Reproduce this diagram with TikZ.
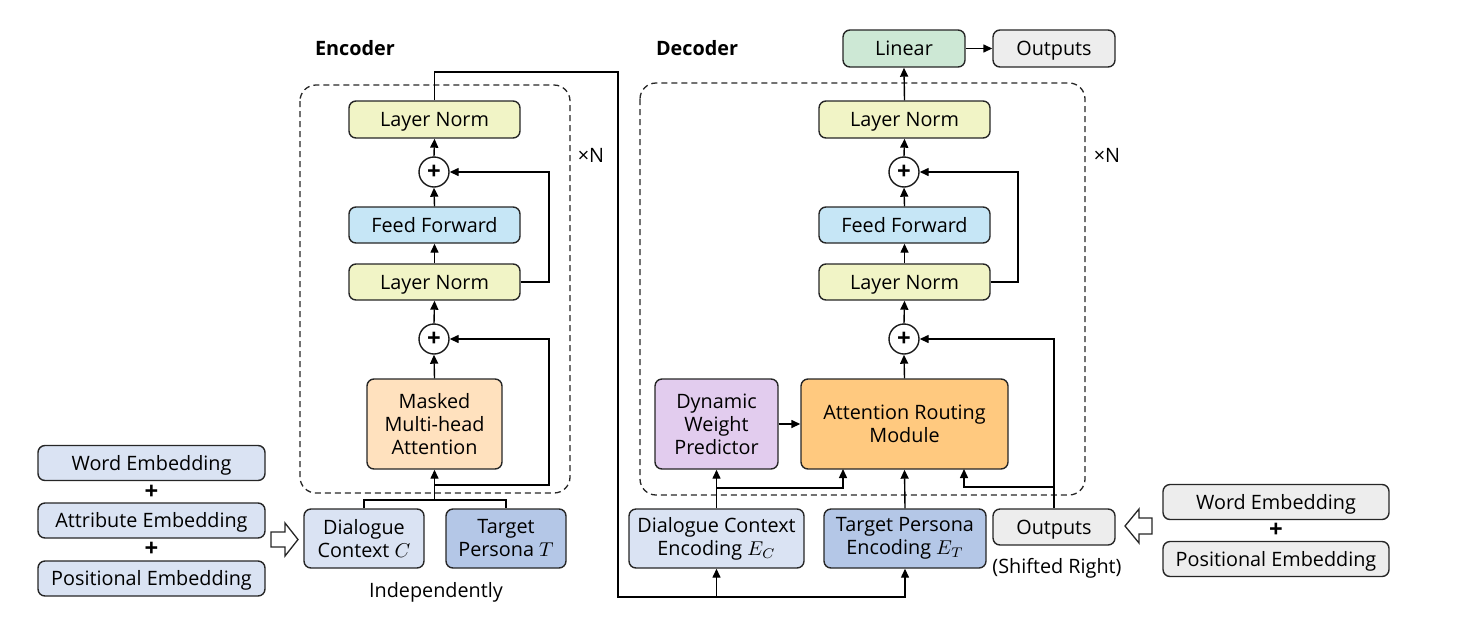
\documentclass[tikz,border=0pt]{standalone}
\usepackage{fontspec}
\setmainfont{Open Sans}
\usetikzlibrary{arrows.meta}
\definecolor{lnC}{HTML}{F1F4C6}
\definecolor{ffC}{HTML}{C6E6F6}
\definecolor{mmC}{HTML}{FFE1BE}
\definecolor{dcC}{HTML}{DAE3F3}
\definecolor{tpC}{HTML}{B4C7E7}
\definecolor{grC}{HTML}{EDEDED}
\definecolor{liC}{HTML}{CDE8D5}
\definecolor{arC}{HTML}{FFC97F}
\definecolor{dwC}{HTML}{E2CCEE}
\tikzset{
  bx/.style={draw=black!85, line width=0.7pt, rounded corners=3.5pt, inner sep=0pt, align=center,
    font=\fontsize{9.9}{11.5}\selectfont},
  one/.style={text height=0.72em, text depth=0pt},
  plusc/.style={draw=black!90, line width=0.7pt, circle, minimum size=15pt, inner sep=0pt, fill=white,
    font=\fontsize{12}{12}\selectfont\bfseries},
  pl/.style={inner sep=0pt, font=\fontsize{12}{12}\selectfont\bfseries},
  lbl/.style={inner sep=0pt, font=\fontsize{9.9}{11.5}\selectfont},
  arr/.style={line width=0.7pt, -{Triangle[length=4.5pt,width=4pt]}},
  ln/.style={line width=0.7pt},
  dbox/.style={draw=black!85, line width=0.65pt, dash pattern=on 3pt off 2pt, rounded corners=8pt},
  hol/.style={draw=black!85, line width=0.65pt, fill=white, line join=miter},
}
\begin{document}
\begin{tikzpicture}[x=0.5pt,y=-0.5pt]
\useasboundingbox (0,0) rectangle (1460,627);

% ---------------- Encoder ----------------
\node[lbl, one, font=\fontsize{9.9}{11.5}\selectfont\bfseries] (enct) at (355,48) {Encoder};
\draw[dbox] (300,85) rectangle (570,493);
\node[lbl, one] (xn1) at (591,155) {×N};

\node[bx, one, fill=lnC, minimum width=85.5pt, minimum height=18.5pt] (eln1) at (434.5,119.5) {Layer Norm};
\node[plusc] (ep1) at (434,172) {+};
\node[bx, one, fill=ffC, minimum width=85.5pt, minimum height=18pt] (eff) at (434.5,225) {Feed Forward};
\node[bx, one, fill=lnC, minimum width=85.5pt, minimum height=18pt] (eln2) at (434.5,282) {Layer Norm};
\node[plusc] (ep2) at (434,339) {+};
\node[bx, fill=mmC, minimum width=67.5pt, minimum height=45pt] (emm) at (434.5,424) {Masked\\Multi-head\\Attention};

\node[bx, fill=dcC, minimum width=60pt, minimum height=29.5pt] (edc) at (364,538.5) {Dialogue\\Context $C$};
\node[bx, fill=tpC, minimum width=60pt, minimum height=29.5pt] (etp) at (506,538.5) {Target\\Persona $T$};
\node[lbl, one] (indep) at (436,590) {Independently};

\draw[arr] (ep1.north) -- (eln1.south);
\draw[arr] (eff.north) -- (ep1.south);
\draw[arr] (eln2.north) -- (eff.south);
\draw[arr] (ep2.north) -- (eln2.south);
\draw[arr] (emm.north) -- (ep2.south);
\coordinate (er1) at (549,282);
\draw[arr] (eln2.east) -- (er1) |- (ep1.east);
\coordinate (ej) at (434.5,500);
\coordinate (er2) at (549,485);
\draw[ln] (edc.north) |- (ej) -| (etp.north);
\draw[arr] (ej) -- (emm.south);
\draw[arr] (er2 -| emm.south) -- (er2) |- (ep2.east);

% left embeddings
\node[bx, one, fill=dcC, minimum width=113.5pt, minimum height=17.5pt] (lwe) at (151.5,463) {Word Embedding};
\node[pl] (lp1) at (151.5,492) {+};
\node[bx, one, fill=dcC, minimum width=113.5pt, minimum height=17.5pt] (lae) at (151.5,520.5) {Attribute Embedding};
\node[pl] (lp2) at (151.5,549.5) {+};
\node[bx, one, fill=dcC, minimum width=113.5pt, minimum height=17.5pt] (lpe) at (151.5,578.5) {Positional Embedding};
\draw[hol] (271,532) -- (285,532) -- (285,523) -- (298,539.5) -- (285,556) -- (285,547) -- (271,547) -- cycle;

% long connector from encoder to decoder inputs
\coordinate (tr) at (618,72);
\coordinate (bl) at (618,597);

% ---------------- Decoder ----------------
\node[lbl, one, font=\fontsize{9.9}{11.5}\selectfont\bfseries] (dect) at (697,48) {Decoder};
\draw[dbox] (640,83) rectangle (1085,495);
\node[lbl, one] (xn2) at (1107,155) {×N};

\node[bx, one, fill=liC, minimum width=61pt, minimum height=18.5pt] (dli) at (904,48.5) {Linear};
\node[bx, one, fill=grC, minimum width=61pt, minimum height=18.5pt] (dout) at (1054,48.5) {Outputs};
\node[bx, one, fill=lnC, minimum width=85.5pt, minimum height=18.5pt] (dln1) at (904.5,119.5) {Layer Norm};
\node[plusc] (dp1) at (904,172) {+};
\node[bx, one, fill=ffC, minimum width=85.5pt, minimum height=18pt] (dff) at (904.5,225) {Feed Forward};
\node[bx, one, fill=lnC, minimum width=85.5pt, minimum height=18pt] (dln2) at (904.5,282) {Layer Norm};
\node[plusc] (dp2) at (904,339) {+};
\node[bx, fill=arC, minimum width=103.5pt, minimum height=45pt] (darm) at (904.5,424) {Attention Routing\\Module};
\node[bx, fill=dwC, minimum width=61.5pt, minimum height=45pt] (ddw) at (716.5,424) {Dynamic\\Weight\\Predictor};

\node[bx, fill=dcC, minimum width=87.5pt, minimum height=29.5pt] (ddc) at (716.5,538.5) {Dialogue Context\\Encoding $E_C$};
\node[bx, fill=tpC, minimum width=81pt, minimum height=29.5pt] (dtp) at (905,538.5) {Target Persona\\Encoding $E_T$};
\node[bx, one, fill=grC, minimum width=61pt, minimum height=18pt] (dso) at (1054,527) {Outputs};
\node[lbl, one] (shr) at (1057,566) {(Shifted Right)};

\draw[arr] (dli.east) -- (dout.west);
\draw[arr] (dln1.north) -- (dli.south);
\draw[arr] (dp1.north) -- (dln1.south);
\draw[arr] (dff.north) -- (dp1.south);
\draw[arr] (dln2.north) -- (dff.south);
\draw[arr] (dp2.north) -- (dln2.south);
\draw[arr] (darm.north) -- (dp2.south);
\coordinate (dr1) at (1018,282);
\draw[arr] (dln2.east) -- (dr1) |- (dp1.east);
\draw[arr] (ddw.east) -- (darm.west);

\draw[arr] (ddc.north) -- (ddw.south);
\coordinate (dj1) at (716.5,488);
\coordinate (da1) at (843,469);
\draw[arr] (dj1) -| (da1);
\draw[arr] (dtp.north) -- (darm.south);
\draw[arr] (dso.north) |- (dp2.east);
\coordinate (dj2) at (1054,487);
\coordinate (da2) at (964,469);
\draw[arr] (dj2) -| (da2);

% encoder output to decoder encodings
\draw[arr] (eln1.north) |- (tr) -- (bl) -| (dtp.south);
\draw[arr] (bl -| ddc.south) -- (ddc.south);

% right embeddings
\node[bx, one, fill=grC, minimum width=113pt, minimum height=17.5pt] (rwe) at (1276,502) {Word Embedding};
\node[pl] (rp1) at (1276,530.5) {+};
\node[bx, one, fill=grC, minimum width=113pt, minimum height=17.5pt] (rpe) at (1276,559) {Positional Embedding};
\draw[hol] (1152,518) -- (1139,518) -- (1139,509) -- (1125,526) -- (1139,543) -- (1139,534) -- (1152,534) -- cycle;
\end{tikzpicture}
\end{document}
